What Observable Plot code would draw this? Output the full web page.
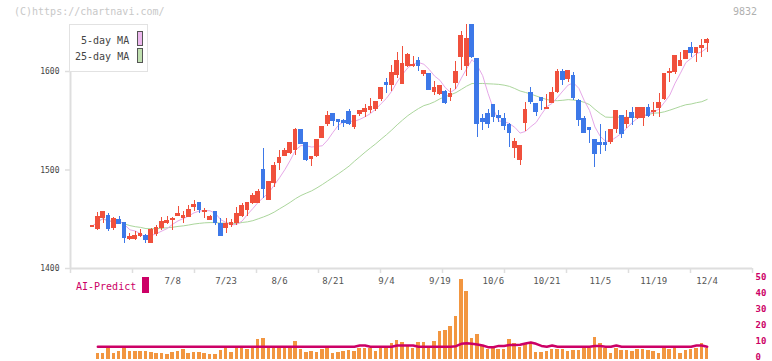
<!DOCTYPE html>
<html><head><meta charset="utf-8">
<script src="https://cdn.jsdelivr.net/npm/d3@7"></script>
<script src="https://cdn.jsdelivr.net/npm/@observablehq/plot@0.6"></script>
<style>
body{margin:0;background:#fff;}
#wrap{position:relative;width:772px;height:361px;overflow:hidden;font-family:"DejaVu Sans Mono",monospace;background:#fff;}
#wrap svg{position:absolute;left:0;top:0;}
.t{position:absolute;white-space:nowrap;line-height:10px;}
</style></head><body><div id="wrap"></div>
<script>
// ---- price data (one candle per trading day) ----
const opens = [1442,1439.6,1451.1,1453.8,1440.9,1449.5,1445.7,1429.5,1429.5,1433.5,
1432.5,1425.7,1435.3,1440.9,1446,1449,1453.8,1451.1,1452.1,1462.3,
1466.3,1457,1448.8,1457.2,1445.4,1440.9,1443.7,1446,1453.8,1459,
1466.3,1466.3,1499.5,1469.8,1486.6,1506.9,1514.7,1517,1519.8,1540.1,
1527.2,1511,1513.7,1532.7,1546.2,1556.4,1550.3,1549.3,1558.7,1543.5,
1556.4,1558.7,1560.4,1562.1,1572.3,1588.1,1585.8,1596.6,1587.5,1605.1,
1605.1,1610.2,1597.7,1597.7,1579,1577.4,1578.7,1573.9,1588.1,1614.5,
1605.4,1662,1612.9,1551.3,1556.4,1565.5,1554.6,1551.3,1545.2,1522.1,
1509.7,1548.2,1578.4,1566.5,1573.3,1561.5,1567.8,1579,1599.3,1591.9,
1595.9,1569.9,1552,1542.9,1530,1527.6,1527.6,1528.2,1541.8,1555.3,
1546.9,1558.1,1553,1553,1563.2,1558.9,1562.8,1572.3,1598.8,1599.3,
1605.1,1612.9,1624,1618.6,1624,1628.7];
const highs = [1443,1456.6,1457,1456.2,1452.1,1452.8,1446,1435.3,1437.5,1440,
1434.5,1441,1443.7,1452.1,1452.8,1452.1,1463,1458,1463.6,1469,
1466.3,1460.6,1454,1458,1450.5,1450.5,1449.8,1462.3,1466.3,1467.3,
1476.5,1480.5,1522.1,1488,1508,1520,1522,1527.2,1541.8,1540.1,
1527.2,1514,1530,1544,1559.7,1556.4,1550.3,1551,1561,1555.3,
1559.4,1566.2,1572.3,1568.8,1583.1,1592.6,1606,1619.6,1625.4,1618,
1615.2,1614,1601,1597.7,1589.9,1586,1580.7,1582.4,1610.5,1640.6,
1652,1665,1612.9,1556.4,1561.4,1565.5,1560.4,1557,1547,1531.7,
1524.2,1568.8,1583.5,1566.5,1573.3,1576.7,1583.5,1602,1602,1601.5,
1599.3,1571.3,1554.6,1543.5,1530,1545.9,1539.1,1540.1,1559.4,1555.3,
1560.4,1563.2,1563.2,1563.2,1566.5,1568.8,1577.4,1597,1603.4,1616.2,
1619.6,1621.3,1629.1,1624,1632.2,1633.2];
const lows = [1442,1438.6,1446,1437.6,1438.6,1444.7,1425.7,1428.5,1428.5,1431,
1425.7,1425.7,1432.5,1438.6,1445,1438.6,1452.8,1445.7,1452,1458,
1455.6,1450.5,1448.8,1443.7,1432.5,1435.3,1442,1443.7,1452.1,1452.8,
1465,1466.3,1470.8,1469,1482.6,1499.5,1513.6,1516,1514.7,1526,
1509,1503.6,1513,1532,1544.2,1544.2,1540,1543,1545.2,1540.8,
1554,1553.6,1557.7,1559,1569.9,1577.4,1580,1592.6,1587.5,1604,
1603.8,1600.3,1595,1580.7,1575.6,1576,1566.5,1569.9,1581.4,1601,
1594.9,1613,1532.7,1540.1,1541.8,1548.5,1548.5,1540.1,1523.2,1511.4,
1504.6,1539.4,1566.5,1554.3,1560.4,1561.5,1567.8,1578,1585.8,1589,
1570.6,1544.2,1537.4,1527.2,1502.9,1515.8,1519.1,1526.2,1537.4,1531.7,
1541.8,1545.2,1551,1544.5,1553,1554.3,1553.6,1570.6,1589.1,1597,
1605.1,1612.9,1613.9,1608.8,1613.9,1619.6];
const closes = [1443,1452.1,1456.9,1439.6,1449.8,1444.7,1430.8,1431.5,1433.5,1435.3,
1428.5,1438.6,1441.4,1446.7,1448,1450,1455.6,1453.2,1459.6,1464.3,
1459,1458,1452.1,1446,1432.5,1444.7,1446,1454.9,1463,1466.3,
1474.1,1477.5,1480.2,1487.6,1503.6,1512,1518.8,1527.2,1540.1,1526,
1510.4,1513,1530,1543.5,1555.3,1549.6,1548.5,1547.5,1546.2,1555.3,
1559.4,1561.7,1563.8,1568.8,1583.1,1586.5,1598.3,1610.2,1607.1,1617,
1606.1,1605.4,1601,1580.7,1583.5,1584.8,1567.8,1577.4,1599.3,1636.5,
1632.5,1614.5,1546.9,1548.5,1546.9,1553.6,1553,1544.5,1537.4,1528.2,
1524.2,1561.4,1568.8,1558.7,1569.9,1562.5,1578.4,1599.3,1590.9,1600.3,
1573.3,1550.3,1537.4,1540.8,1516.5,1525.6,1525.6,1540.1,1559.4,1536.1,
1553,1552.6,1563.2,1563.2,1555.3,1559.9,1567.8,1597,1599.8,1616.2,
1610.5,1621.3,1618.6,1624,1625.7,1631.5];

// ---- date labels (candle index -> label) ----
const dateIndex  = [15,25,35,45,55,65,75,85,95,105,115];
const dateLabels = ["7/8","7/23","8/6","8/21","9/4","9/19","10/6","10/21","11/5","11/19","12/4"];
const priceTicks = [1400,1500,1600];

// ---- AI-Predict panel (candles 1..115) ----
const predictBars = [3.8,3.8,6.7,3.8,5,6.7,5,5,5,5,
4.2,3.8,3.8,3.1,4.2,5,6,3.8,4.4,4.4,
3.8,3.1,3.1,5.4,7.5,4.4,7,7,6.3,7,
12.5,13.1,7,7,7,7,7,11.3,6,4.4,
5,4.4,6,7,3.8,4.4,5,5.4,5,7,
7,7,5,7,7,10,11.9,10.4,8.3,7,
10.4,10.4,7,11.3,17.5,18.1,20.6,26.9,50,42.5,
13.3,15.6,8.3,6.3,7.7,6.3,6.3,12.5,9.8,7.7,
9.8,10.4,4.6,4.6,5.2,6.3,6.3,6.3,5,5.6,
5.6,7,7,14,9.8,7,4,7,5.6,5.6,
5,6.3,6.3,5.6,5,4,7,6.3,7,4,
5.6,6.3,7,9.8,7];
const predictLine = [8,8,8,8,8,8,8,8,8,8,
8,8,8,8,8,8,8,8,8,8,
8,8,8,8,8,8,8,8,8,8,
8,8,8,8,8,8,8,8,8,8,
8,8,8,8,8,8,8,8,8,8.75,
8.75,8,8,8,8,8,8.75,8.75,8.75,8.75,
8,8,8,8,8,8,8,8.3,9.8,10.2,
9.8,9.4,8.75,7.7,7.7,8.5,8.5,9,9,9.2,
10,10.6,9.8,8.5,8,8.75,8,8,8,8,
8,8,8,8.4,8.4,8,8,8.75,8,8,
8,8,8,8,8,8,8,8,8,8,
8,8,8.75,8.75,8];
const predictTicks = [0,10,20,30,40,50];

const RED = "#f0503c", BLUE = "#3d78e8", PINK = "#e6a8e8", GREEN = "#abd69c";
const ORANGE = "#f29640", MAG = "#cc0066", GRID = "#dedede";

const candles = opens.map((o, i) => ({i, open: o, high: highs[i], low: lows[i], close: closes[i]}));
const bars = predictBars.map((v, j) => ({i: j + 1, v, m: predictLine[j]}));
const isUp = d => d.close >= d.open;
const isDown = d => d.close < d.open;

const xDomain = [-4.116, 123.48];
const gridTicks = d3.range(12).map(k => xDomain[0] + k * (xDomain[1] - xDomain[0]) / 11);
const font = "DejaVu Sans Mono, monospace";

const main = Plot.plot({
  width: 772, height: 361,
  marginTop: 24, marginBottom: 93, marginLeft: 70, marginRight: 20,
  style: {fontFamily: font, background: "transparent", overflow: "visible"},
  x: {domain: xDomain, axis: null, label: null},
  y: {domain: [1400, 1647.7], axis: null, label: null},
  marks: [
    Plot.ruleY([priceTicks[0]], {stroke: GRID, strokeWidth: 2}),
    Plot.ruleX([xDomain[0]], {stroke: GRID, strokeWidth: 2}),
    Plot.axisX({ticks: gridTicks, tickSize: 5, tickFormat: () => "", stroke: GRID, strokeWidth: 1.5, label: null}),
    Plot.axisY({ticks: priceTicks, tickSize: 5, tickPadding: 6, stroke: GRID, strokeWidth: 1.5, fill: "#444", fontSize: 8, tickFormat: d => String(d), label: null}),
    Plot.lineY(candles, Plot.windowY({k: 25, anchor: "end"}, {x: "i", y: "close", stroke: GREEN, strokeWidth: 1, clip: true})),
    Plot.lineY(candles, Plot.windowY({k: 5, anchor: "end"}, {x: "i", y: "close", stroke: PINK, strokeWidth: 1, clip: true})),
    Plot.ruleX(candles, {filter: isUp, x: "i", y1: "low", y2: "high", stroke: RED, strokeWidth: 1, clip: true, shapeRendering: "crispEdges"}),
    Plot.ruleX(candles, {filter: isDown, x: "i", y1: "low", y2: "high", stroke: BLUE, strokeWidth: 1, clip: true, shapeRendering: "crispEdges"}),
    Plot.rect(candles, {filter: isUp, x1: d => d.i - 0.44, x2: d => d.i + 0.44, y1: "open", y2: "close", fill: RED, clip: true, insetTop: -0.5, insetBottom: -0.5, shapeRendering: "crispEdges"}),
    Plot.rect(candles, {filter: isDown, x1: d => d.i - 0.44, x2: d => d.i + 0.44, y1: "open", y2: "close", fill: BLUE, clip: true, insetTop: -0.5, insetBottom: -0.5, shapeRendering: "crispEdges"}),
    Plot.text(dateIndex, {x: d => d, text: (d, j) => dateLabels[j], frameAnchor: "bottom", dy: 15, fontSize: 9, fill: "#555"})
  ]
});

const lower = Plot.plot({
  width: 772, height: 361,
  marginTop: 279, marginBottom: 2, marginLeft: 70, marginRight: 20,
  style: {fontFamily: font, background: "transparent", overflow: "visible"},
  x: {domain: xDomain, axis: null, label: null},
  y: {domain: [0, 50], axis: null, label: null},
  marks: [
    Plot.rect(bars, {x1: d => d.i - 0.33, x2: d => d.i + 0.33, y1: 0, y2: "v", fill: ORANGE, shapeRendering: "crispEdges"}),
    Plot.line(bars, {x: "i", y: "m", stroke: MAG, strokeWidth: 2.5}),
    Plot.axisY({anchor: "right", ticks: predictTicks, tickSize: 0, tickPadding: 3, dy: -2, fill: MAG, fontSize: 9, fontWeight: "bold", tickFormat: d => String(d), label: null})
  ]
});

const wrap = document.getElementById("wrap");
wrap.appendChild(main);
wrap.appendChild(lower);

function addText(txt, css) {
  const el = document.createElement("div");
  el.className = "t";
  el.textContent = txt;
  Object.assign(el.style, css);
  wrap.appendChild(el);
  return el;
}
addText("(C)https://chartnavi.com/", {left: "14px", top: "7px", fontSize: "10px", color: "#c8c8c8"});
addText("9832", {right: "15px", top: "7px", fontSize: "10px", color: "#b0b0b0"});

// legend
const box = document.createElement("div");
Object.assign(box.style, {position: "absolute", left: "69px", top: "24px", width: "79px", height: "48px", boxSizing: "border-box", border: "1.5px solid #e2e2e2", background: "#fff"});
wrap.appendChild(box);
addText("5-day MA", {left: "81px", top: "36px", fontSize: "10px", color: "#444"});
addText("25-day MA", {left: "75px", top: "52px", fontSize: "10px", color: "#444"});
const sw = (top, col) => {
  const s = document.createElement("div");
  Object.assign(s.style, {position: "absolute", left: "137px", top: top + "px", width: "6px", height: "15px", boxSizing: "border-box", border: "1px solid #555", background: col});
  wrap.appendChild(s);
};
sw(31, "#edb8ee");
sw(48, "#c0e0b0");

// AI-Predict label
addText("AI-Predict", {left: "76px", top: "282px", fontSize: "10px", color: MAG});
const mk = document.createElement("div");
Object.assign(mk.style, {position: "absolute", left: "142px", top: "277px", width: "7px", height: "16px", background: MAG});
wrap.appendChild(mk);
</script>
</body></html>
